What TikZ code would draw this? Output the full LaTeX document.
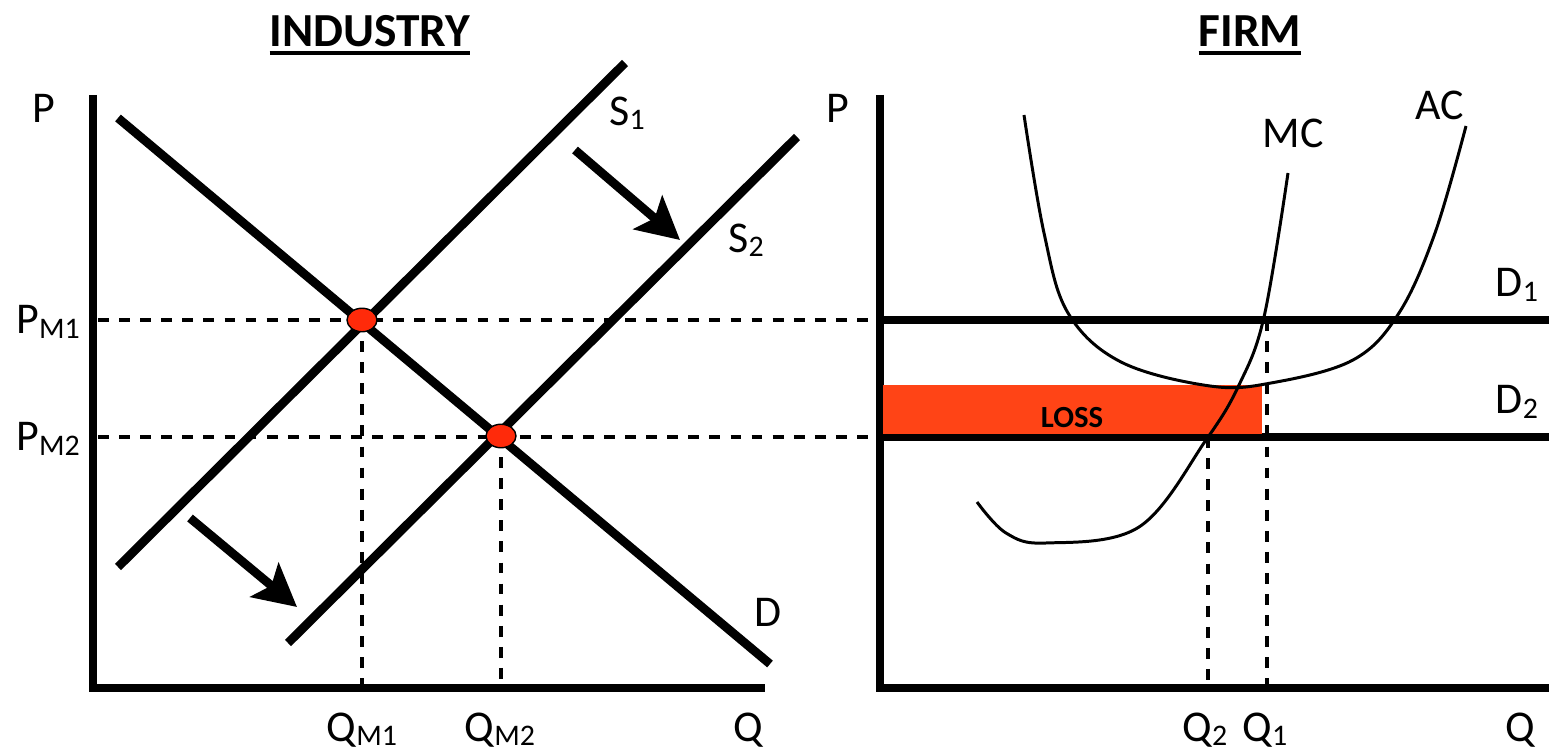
\documentclass[tikz,border=0pt]{standalone}
\usepackage{fontspec}
\setmainfont{Carlito}
\usetikzlibrary{arrows.meta, shapes.geometric}
\definecolor{cLoss}{HTML}{FF4416}
\definecolor{cDot}{HTML}{FF2A0A}
\tikzset{
  axisline/.style={line width=5pt, line join=miter},
  mainline/.style={line width=5pt},
  costcurve/.style={line width=1.7pt},
  guide/.style={line width=2.8pt, dash pattern=on 6.2pt off 5.8pt},
  shiftarr/.style={line width=5pt, -{Stealth[length=24pt, width=25pt, inset=5pt]}},
  eqdot/.style={ellipse, fill=cDot, draw=black, line width=0.8pt,
                minimum width=0.6cm, minimum height=0.47cm, inner sep=0pt},
  lbl/.style={font=\fontsize{25}{25}\selectfont, inner sep=0pt},
  ttl/.style={font=\fontsize{27}{27}\selectfont\bfseries, inner sep=0pt},
  losslbl/.style={font=\fontsize{17.5}{17.5}\selectfont\bfseries, inner sep=0pt},
}
\newcommand{\sbs}[1]{\raisebox{-2.5pt}{\fontsize{17}{17}\selectfont #1}}
\newcommand{\ulbf}[1]{\vtop{\hbox{#1}\kern2.5pt\hrule height 2.2pt}}

\begin{document}
\begin{tikzpicture}[x=0.02cm, y=-0.02cm]
\useasboundingbox (0,0) rectangle (1549,753);

% Industry panel
\node[ttl] (tInd) at (370,35) {\ulbf{INDUSTRY}};
\coordinate (oL) at (93,688);
\coordinate (yL) at (93,95);
\coordinate (xL) at (765,688);
\draw[axisline] (yL) -- (oL) -- (xL);

\coordinate (e1) at (362,320);
\coordinate (e2) at (501,436);

% guide lines
\coordinate (pm1) at (98,320);
\coordinate (pm2) at (98,437);
\coordinate (f1) at (880,320);
\coordinate (f2) at (880,437);
\draw[guide] (pm1) -- (f1);
\draw[guide] (pm2) -- (f2);
\draw[guide] (e1) -- (e1 |- oL);
\draw[guide] (e2) -- (e2 |- oL);

% demand and supply
\coordinate (dA) at (118,118);
\coordinate (dB) at (770,664);
\coordinate (s1A) at (118,567);
\coordinate (s1B) at (625,63);
\coordinate (s2A) at (288,643);
\coordinate (s2B) at (797,137);
\draw[mainline] (dA) -- (dB);
\draw[mainline] (s1A) -- (s1B);
\draw[mainline] (s2A) -- (s2B);

% shift arrows
\coordinate (a1A) at (575,150);
\coordinate (a1B) at (680,240);
\coordinate (a2A) at (190,518);
\coordinate (a2B) at (297,607);
\draw[shiftarr] (a1A) -- (a1B);
\draw[shiftarr] (a2A) -- (a2B);

\node[eqdot] (dot1) at (e1) {};
\node[eqdot] (dot2) at (e2) {};

\node[lbl] (lP) at (44,108) {P};
\node[lbl] (lS1) at (627,113) {S\sbs{1}};
\node[lbl] (lS2) at (746,240) {S\sbs{2}};
\node[lbl] (lD) at (768,612) {D};
\node[lbl] (lPM1) at (48,322) {P\sbs{M1}};
\node[lbl] (lPM2) at (48,439) {P\sbs{M2}};
\node[lbl] (lQM1) at (362,730) {Q\sbs{M1}};
\node[lbl] (lQM2) at (500,730) {Q\sbs{M2}};
\node[lbl] (lQ) at (748,730) {Q};

% Firm panel
\node[ttl] (tFirm) at (1250,35) {\ulbf{FIRM}};
\coordinate (oR) at (880,688);
\coordinate (yR) at (880,95);
\coordinate (xR) at (1549,688);
\draw[axisline] (yR) -- (oR) -- (xR);

\coordinate (d1B) at (1549,320);
\coordinate (d2B) at (1549,437);
\draw[mainline] (f1) -- (d1B);
\draw[mainline] (f2) -- (d2B);

\coordinate (q1) at (1267,320);
\coordinate (q2) at (1208,437);
\draw[guide] (q1) -- (q1 |- oR);
\draw[guide] (q2) -- (q2 |- oR);

\fill[cLoss] (883,385) rectangle (1262,434);
\node[losslbl] (lLoss) at (1072,418) {LOSS};

\draw[costcurve] plot[smooth, tension=0.6] coordinates
  {(977,502) (1006,533) (1046,543) (1139,527) (1206,440) (1239,385) (1264,317) (1288,173)};
\draw[costcurve] plot[smooth, tension=0.6] coordinates
  {(1024,115) (1044,233) (1068,313) (1121,362) (1210,386) (1271,383) (1353,360) (1399,313) (1435,233) (1466,126)};

\node[lbl] (rP) at (838,108) {P};
\node[lbl] (lMC) at (1293,133) {MC};
\node[lbl] (lAC) at (1440,105) {AC};
\node[lbl] (lD1) at (1517,285) {D\sbs{1}};
\node[lbl] (lD2) at (1517,402) {D\sbs{2}};
\node[lbl] (lQ2) at (1205,730) {Q\sbs{2}};
\node[lbl] (lQ1) at (1265,730) {Q\sbs{1}};
\node[lbl] (rQ) at (1520,730) {Q};
\end{tikzpicture}
\end{document}
